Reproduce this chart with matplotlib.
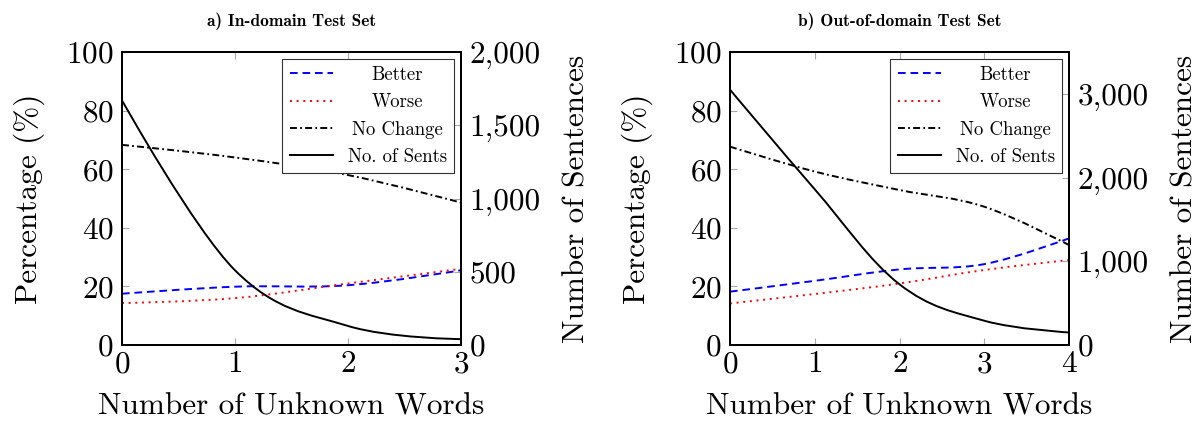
import matplotlib
matplotlib.use("Agg")
import matplotlib.pyplot as plt
import numpy as np
from matplotlib.path import Path
from matplotlib.patches import PathPatch
from matplotlib.ticker import FuncFormatter

# in-domain test set
x_in = [0, 1, 2, 3]
better_in = [17.5, 19.9, 20.4, 25.5]
worse_in = [14.3, 16.0, 21.0, 26.0]
nochange_in = [68.3, 64.0, 58.0, 48.6]
sents_in = [1670, 510, 130, 40]

# out-of-domain test set
x_out = [0, 1, 2, 3, 4]
better_out = [18.2, 21.9, 25.8, 27.6, 36.4]
worse_out = [14.2, 17.4, 21.0, 25.6, 29.0]
nochange_out = [67.7, 59.2, 52.9, 47.2, 34.1]
sents_out = [3050, 1860, 725, 290, 150]

titles = ["a) In-domain Test Set", "b) Out-of-domain Test Set"]
labels = ["Better", "Worse", "No Change", "No. of Sents"]

plt.rcParams['font.family'] = ['cmr10', 'DejaVu Serif']
plt.rcParams['axes.formatter.use_mathtext'] = True
plt.rcParams['lines.scale_dashes'] = False

styles = [
    dict(color='blue', linestyle=(0, (5.5, 3.5))),
    dict(color='red', linestyle=(0, (1.4, 3.4))),
    dict(color='black', linestyle=(0, (5, 2.3, 1.3, 2.3))),
    dict(color='black', linestyle='-'),
]


def smooth(ax, x, y, lw=1.4, **kw):
    # pgfplots-like "smooth" curve: bezier through the data points
    p = np.column_stack([x, y]).astype(float)
    n = len(p)
    verts = [p[0]]
    codes = [Path.MOVETO]
    t = 0.18
    for i in range(n - 1):
        d0 = (p[min(i + 1, n - 1)] - p[max(i - 1, 0)]) * t if i > 0 else np.zeros(2)
        d1 = (p[min(i + 2, n - 1)] - p[i]) * t if i + 1 < n - 1 else np.zeros(2)
        verts += [p[i] + d0, p[i + 1] - d1, p[i + 1]]
        codes += [Path.CURVE4] * 3
    ax.add_patch(PathPatch(Path(verts, codes), fill=False, lw=lw, **kw))


def center_legend_text(fig, leg):
    fig.canvas.draw()
    r = fig.canvas.get_renderer()
    ws = [t.get_window_extent(r).width for t in leg.get_texts()]
    m = max(ws)
    for t, w in zip(leg.get_texts(), ws):
        t.set_x((m - w) / 2)


fig = plt.figure(figsize=(12.02, 4.25), dpi=100)
W, H = 1202, 425
panels = [
    (122, x_in, [better_in, worse_in, nochange_in], sents_in, 3, 2000, [0, 500, 1000, 1500, 2000]),
    (730, x_out, [better_out, worse_out, nochange_out], sents_out, 4, 3500, [0, 1000, 2000, 3000]),
]

FS = 22.5
legs = []
for k, (left, xs, pct, sents, xmax, smax, sticks) in enumerate(panels):
    ax = fig.add_axes([left / W, (H - 345) / H, 339 / W, 293 / H])
    ax2 = ax.twinx()
    for ys, st in zip(pct, styles[:3]):
        smooth(ax, xs, ys, **st)
    smooth(ax2, xs, sents, **styles[3])

    ax.set_xlim(0, xmax)
    ax.set_ylim(0, 100)
    ax2.set_ylim(0, smax)
    ax.set_xticks(range(xmax + 1))
    ax.set_yticks([0, 20, 40, 60, 80, 100])
    ax2.set_yticks(sticks)
    ax2.yaxis.set_major_formatter(FuncFormatter(lambda v, p: f'{int(v):,}'))

    for a in (ax, ax2):
        for s in a.spines.values():
            s.set_linewidth(1.4)
        a.tick_params(direction='in', length=5, width=0.8, color='#a8a8a8',
                      labelsize=FS, pad=6)
    ax.tick_params(axis='x', top=True, pad=4)

    ax.set_xlabel("Number of Unknown Words", fontsize=FS, labelpad=10)
    ax.set_ylabel("Percentage (%)", fontsize=FS)
    ax.yaxis.set_label_coords(-0.228, 0.5)
    ax2.set_ylabel("Number of Sentences", fontsize=FS)
    ax2.yaxis.set_label_coords(1.30, 0.5)
    ax.set_title(titles[k], fontsize=12.5, family='cmb10', pad=19)

    handles = [ax2.plot([], [], lw=1.4, label=lb, **st)[0] for lb, st in zip(labels, styles)]
    leg = ax2.legend(handles=handles, loc='upper right', fontsize=13.5, fancybox=False,
                     edgecolor='#333333', framealpha=1, borderaxespad=0.35,
                     handlelength=2.3, labelspacing=0.5, borderpad=0.4,
                     handletextpad=0.8)
    leg.get_frame().set_linewidth(0.8)
    legs.append(leg)

for leg in legs:
    center_legend_text(fig, leg)

fig.savefig("out.png", dpi=100)
